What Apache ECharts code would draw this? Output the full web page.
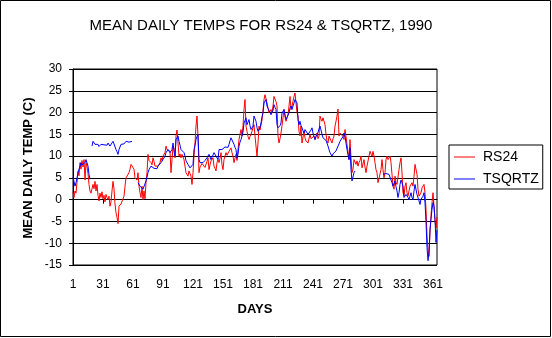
<!DOCTYPE html>
<html>
<head>
<meta charset="utf-8">
<script src="https://cdn.jsdelivr.net/npm/echarts@6/dist/echarts.min.js"></script>
<style>
html,body{margin:0;padding:0;background:#fff;}
#c{width:552px;height:338px;}
</style>
</head>
<body>
<div id="c"></div>
<script>
// ---- data ----
const title = 'MEAN DAILY TEMPS FOR RS24 & TSQRTZ, 1990';
const xTitle = 'DAYS';
const yTitle = 'MEAN DAILY TEMP (C)';
const seriesNames = ['RS24', 'TSQRTZ'];
const yTicks = [-15, -10, -5, 0, 5, 10, 15, 20, 25, 30];
const days = [];
for (let d = 1; d <= 365; d++) days.push(String(d));

const rs24 = [
 1.7, 0.5, 2.0, 1.5, 4.0, 6.5, 5.5, 8.5, 7.0, 9.0,
 7.5, 9.2, 4.5, 8.5, 7.5, 6.0, 3.5, 2.0, 1.5, 2.5,
 3.5, 2.5, 4.2, 2.0, 3.5, 1.0, -0.3, 1.5, 0.5, 1.8,
 0.2, 1.0, -0.5, 1.2, 0.5, 0.0, 0.8, -1.5, -0.5, 2.0,
 4.2, 2.5, -1.0, -3.0, -4.0, -5.5, -1.5, -1.2, -1.0, -1.1,
 -0.8, 0.8, 3.1, 5.0, 4.8, 5.4, 6.2, 7.0, 8.1, 8.2,
 8.5, 7.0, 5.0, 5.2, 4.5, 6.2, 3.1, 1.6, 0.5, 3.1,
 0.0, 2.0, 0.2, 3.9, 6.2, 10.4, 9.0, 9.2, 8.5, 8.0,
 9.6, 8.8, 7.7, 7.3, 8.0, 7.7, 8.0, 8.5, 9.6, 9.0,
 10.0, 10.3, 10.8, 12.3, 11.5, 11.9, 11.5, 11.1, 6.2, 9.2,
 12.3, 11.8, 9.6, 14.6, 16.0, 13.0, 10.0, 10.5, 9.6, 10.4,
 10.0, 9.2, 7.7, 6.2, 5.8, 5.4, 6.6, 6.0, 5.4, 3.5,
 6.2, 10.0, 13.0, 16.9, 19.2, 14.6, 6.2, 7.5, 7.7, 8.3,
 8.5, 8.1, 7.4, 7.7, 8.8, 9.6, 6.9, 8.0, 8.9, 9.2,
 9.6, 7.7, 7.2, 6.6, 8.5, 9.2, 8.5, 9.5, 10.8, 8.0,
 6.9, 9.2, 10.0, 10.8, 10.2, 10.0, 11.1, 11.5, 11.9, 10.8,
 10.0, 8.5, 9.5, 10.4, 9.0, 11.5, 13.8, 15.0, 16.1, 14.6,
 17.0, 20.7, 23.0, 16.9, 15.7, 14.5, 13.8, 14.5, 15.0, 15.7,
 16.5, 17.2, 14.6, 12.3, 10.0, 13.0, 16.9, 16.0, 15.7, 18.3,
 20.5, 23.0, 24.1, 23.7, 22.2, 21.0, 19.9, 20.3, 20.7, 19.9,
 21.5, 23.7, 23.7, 22.5, 21.5, 14.6, 13.0, 14.0, 15.3, 17.0,
 18.8, 20.7, 19.0, 18.0, 17.6, 19.5, 21.5, 23.7, 20.7, 21.5,
 21.8, 23.7, 24.5, 22.2, 20.0, 19.2, 15.7, 14.6, 16.9, 13.0,
 12.7, 15.7, 14.2, 13.5, 13.8, 13.0, 12.7, 15.0, 14.0, 13.8,
 14.2, 14.6, 13.8, 14.5, 15.3, 14.0, 14.6, 19.2, 18.5, 18.0,
 18.8, 18.5, 17.2, 15.0, 13.5, 13.0, 14.6, 14.2, 13.5, 13.0,
 14.0, 14.6, 16.9, 18.0, 19.2, 20.8, 14.6, 15.3, 15.5, 15.0,
 14.5, 13.8, 16.1, 14.5, 12.7, 11.0, 9.2, 13.8, 9.6, 6.2,
 7.0, 9.2, 9.2, 8.1, 8.9, 7.7, 8.5, 9.0, 10.0, 7.3,
 7.7, 9.2, 7.5, 6.2, 7.7, 8.1, 10.0, 11.1, 10.5, 10.0,
 11.1, 10.0, 8.5, 6.9, 6.2, 3.9, 3.5, 4.3, 6.9, 9.2,
 6.9, 5.0, 6.2, 9.2, 10.0, 9.2, 9.2, 10.0, 8.5, 5.8,
 3.1, 2.4, 5.4, 4.0, 3.5, 3.1, 6.9, 8.5, 9.6, 6.2,
 1.6, 0.8, 3.1, 3.9, 1.6, 0.8, 2.0, 3.1, 3.5, 3.9,
 3.1, 5.4, 8.1, 7.7, 5.8, 2.4, 0.8, 0.5, 1.6, 2.7,
 3.1, 3.5, 1.6, -2.2, -8.3, -11.4, -13.0, -7.6, -3.7, -0.7,
 1.6, -1.5, -5.0, -6.5, -4.0
];

const tsqrtz = [
 5.2, 5.4, 3.1, 3.9, 5.0, 6.2, 7.0, 7.7, 8.5, 8.0,
 7.7, 8.2, 8.5, 9.2, 9.0, 7.7, 5.8, 4.7, null, 12.3,
 13.4, 13.8, 12.7, 12.3, 12.5, 12.7, 12.2, 11.9, 12.7, 12.5,
 12.3, 12.6, 12.7, 12.3, 12.5, 13.0, 12.6, 12.3, 11.9, 12.5,
 13.4, 12.8, 12.7, 11.5, 11.0, 10.4, 11.5, 11.9, 12.7, 12.3,
 13.0, 12.8, 12.7, 13.4, 13.2, 13.0, 13.2, 13.0, 13.4, 13.4,
 null, null, null, null, null, 3.9, 3.5, 3.1, 2.7, 2.9,
 2.4, 2.6, 2.7, 4.3, 5.2, 6.2, 6.9, 6.6, 7.7, 7.5,
 7.3, 7.2, 6.9, 7.3, 7.1, 7.7, 7.5, 8.0, 8.5, 8.7,
 9.2, 9.6, 10.0, 10.8, 11.0, 11.5, 11.2, 10.8, 10.4, 11.5,
 13.0, 11.2, 10.0, 13.8, 14.0, 14.6, 13.4, 12.5, 11.5, 11.9,
 11.5, 10.8, 10.0, 8.9, 8.5, 8.1, 7.7, 7.3, 6.9, 7.5,
 8.1, 11.5, 12.5, 13.8, 14.5, 15.0, 9.2, 8.5, 8.1, 8.3,
 8.5, 8.9, 9.0, 9.2, 9.6, 10.0, 10.4, 9.8, 9.2, 9.4,
 9.6, 10.8, 10.4, 10.0, 9.6, 9.2, 11.5, 11.7, 11.9, 11.5,
 11.1, 11.9, 12.1, 12.3, 12.1, 12.0, 12.7, 13.5, 14.2, 14.6,
 14.4, 12.7, 12.0, 11.5, 9.5, 10.5, 12.3, 13.2, 13.8, 14.2,
 15.5, 17.6, 18.2, 18.8, 17.2, 17.5, 18.4, 17.0, 16.1, 16.5,
 16.9, 19.2, 18.6, 18.0, 16.5, 15.7, 15.3, 16.5, 17.6, 19.0,
 19.9, 22.2, 22.6, 23.0, 21.5, 21.0, 20.7, 20.0, 19.5, 19.9,
 20.5, 21.8, 21.2, 20.7, 17.2, 16.5, 16.1, 17.0, 17.6, 19.9,
 20.3, 20.7, 19.5, 18.4, 18.0, 18.8, 19.9, 21.0, 21.5, 20.7,
 21.5, 22.2, 23.0, 23.4, 22.2, 18.4, 17.2, 18.0, 17.0, 16.5,
 15.8, 15.3, 16.1, 15.9, 15.7, 15.0, 14.6, 15.3, 16.0, 16.5,
 15.3, 14.5, 13.8, 14.5, 15.0, 15.5, 15.7, 16.9, 16.0, 15.0,
 14.2, 13.8, 13.8, 13.6, 13.4, 12.3, 11.5, 10.8, 10.4, 10.0,
 10.5, 10.8, 10.8, 11.2, 11.5, 12.3, 12.8, 13.4, 13.2, 13.0,
 14.5, 15.3, 14.6, 13.0, 11.5, 10.3, 9.2, 11.9, 6.9, 4.3,
 3.9, 6.2, 6.6, null, null, null, null, null, null, null,
 null, null, null, null, null, null, null, null, null, null,
 null, null, null, null, null, null, null, null, null, null,
 5.8, 5.6, 5.8, 6.0, 6.2, 5.8, 5.8, 5.6, 5.4, 3.9,
 3.1, 3.5, 4.3, 3.0, 2.0, 0.5, 1.6, 3.5, 4.5, 3.9,
 3.1, 0.5, 0.8, 1.2, 0.8, 0.5, 0.0, 0.8, 1.6, 0.5,
 0.0, 2.0, 3.5, 3.1, 1.2, 0.8, -0.3, -1.1, 0.1, 0.5,
 0.8, 1.6, -0.7, -5.0, -11.0, -14.0, -12.1, -6.8, -4.5, -2.2,
 -0.7, -1.5, -4.5, -9.8, -7.0
];

// ---- chart ----
const FONT = '"Liberation Sans", Arial, sans-serif';
const chart = echarts.init(document.getElementById('c'), null, {renderer: 'canvas'});
chart.setOption({
  animation: false,
  backgroundColor: '#ffffff',
  textStyle: {fontFamily: FONT, color: '#000'},
  grid: {left: 73, top: 69, width: 364, height: 196, show: true, borderColor: '#000', borderWidth: 1, backgroundColor: 'transparent'},
  legend: {
    orient: 'vertical', left: 449, top: 145,
    data: seriesNames.map(n => ({name: n, icon: 'rect'})),
    itemWidth: 21, itemHeight: 1, itemGap: 6,
    padding: [4, 4, 2, 5],
    borderColor: '#000', borderWidth: 1,
    textStyle: {fontFamily: FONT, fontSize: 14, lineHeight: 16, color: '#000', padding: [0, 0, 0, 3]}
  },
  xAxis: {
    type: 'category', data: days, boundaryGap: false,
    axisLine: {show: true, lineStyle: {color: '#000', width: 1}},
    axisTick: {show: true, interval: 29, length: 4, inside: false, lineStyle: {color: '#000'}},
    axisLabel: {interval: 29, margin: 14, fontSize: 12, color: '#000', fontFamily: FONT},
    splitLine: {show: false}
  },
  yAxis: {
    type: 'value', min: yTicks[0], max: yTicks[yTicks.length - 1], interval: 5,
    axisLine: {show: true, lineStyle: {color: '#000', width: 1}},
    axisTick: {show: true, length: 4, lineStyle: {color: '#000'}},
    axisLabel: {margin: 11, fontSize: 12, color: '#000', fontFamily: FONT},
    splitLine: {show: true, lineStyle: {color: '#000', width: 1}}
  },
  series: [
    {name: seriesNames[0], type: 'line', data: rs24, symbol: 'none', connectNulls: false,
     lineStyle: {color: '#ff0000', width: 1}, itemStyle: {color: '#ff0000'}},
    {name: seriesNames[1], type: 'line', data: tsqrtz, symbol: 'none', connectNulls: false,
     lineStyle: {color: '#0000ff', width: 1}, itemStyle: {color: '#0000ff'}}
  ],
  graphic: [
    {type: 'rect', shape: {x: 0.5, y: 0.5, width: 550, height: 336}, style: {fill: 'none', stroke: '#000', lineWidth: 1}, silent: true},
    {type: 'text', x: 261, y: 26, style: {text: title, font: '15px ' + FONT, fill: '#000', textAlign: 'center', textVerticalAlign: 'middle'}},
    {type: 'text', x: 255, y: 309, style: {text: xTitle, font: 'bold 13px ' + FONT, fill: '#000', textAlign: 'center', textVerticalAlign: 'middle'}},
    {type: 'text', x: 28, y: 168, rotation: Math.PI / 2, style: {text: yTitle, font: 'bold 13px ' + FONT, fill: '#000', textAlign: 'center', textVerticalAlign: 'middle'}}
  ]
});
</script>
</body>
</html>
